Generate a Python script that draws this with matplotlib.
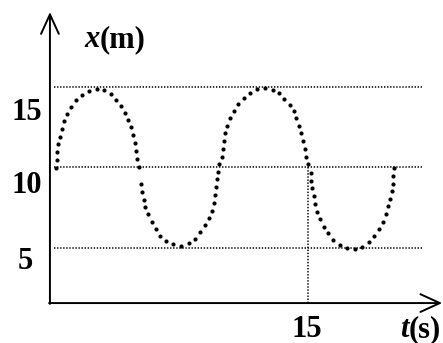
"""Displacement-time graph x(t) drawn as a dotted curve."""
import matplotlib
matplotlib.use('Agg')
import matplotlib.pyplot as plt

# dot positions: time (s) and displacement (m)
t_dots = [0.06, 0.10, 0.12, 0.18, 0.28, 0.40, 0.53, 0.73, 0.97, 1.24,
          1.60, 2.02, 2.47, 2.89, 3.30, 3.63, 3.91, 4.17, 4.35, 4.51,
          4.62, 4.72, 4.80, 4.88, 4.96,
          5.10, 5.16, 5.26, 5.35, 5.53, 5.73, 5.97, 6.24, 6.60, 7.01,
          7.47, 7.93, 8.30, 8.61, 8.88, 9.11, 9.29, 9.41, 9.50, 9.56,
          9.60, 9.68,
          9.74, 9.88, 9.94, 10.00, 10.09, 10.21, 10.39, 10.63, 10.87, 11.19,
          11.54, 11.97, 12.45, 12.90, 13.28, 13.59, 13.91, 14.15, 14.29, 14.45,
          14.59, 14.70, 14.80, 14.88, 14.98,
          15.18, 15.19, 15.25, 15.34, 15.43, 15.55, 15.73, 15.95, 16.19, 16.50,
          16.88, 17.31, 17.77, 18.20, 18.60, 18.91, 19.19, 19.43, 19.60, 19.76,
          19.88, 19.96, 20.02, 20.05, 20.09]
x_dots = [9.95, 10.47, 10.98, 11.46, 11.91, 12.41, 12.89, 13.34, 13.78, 14.17,
          14.52, 14.77, 14.88, 14.80, 14.55, 14.19, 13.82, 13.39, 12.95, 12.50,
          12.02, 11.52, 11.02, 10.51, 10.01,
          8.98, 8.46, 7.98, 7.53, 7.09, 6.61, 6.16, 5.76, 5.45, 5.23,
          5.14, 5.31, 5.58, 5.98, 6.41, 6.84, 7.30, 7.78, 8.27, 8.79,
          9.27, 9.74,
          10.22, 10.67, 11.15, 11.65, 12.12, 12.60, 13.06, 13.51, 13.94, 14.30,
          14.61, 14.86, 14.94, 14.83, 14.61, 14.27, 13.90, 13.49, 13.07, 12.58,
          12.12, 11.63, 11.15, 10.67, 10.20,
          9.68, 9.18, 8.71, 8.23, 7.73, 7.24, 6.78, 6.32, 5.91, 5.52,
          5.19, 5.00, 4.96, 5.08, 5.39, 5.75, 6.16, 6.61, 7.09, 7.59,
          8.04, 8.52, 8.99, 9.47, 9.95]

x_levels = [15, 10, 5]
x_labels = ['15', '10', '5']
t_mark = 15
t_label = '15'

plt.rcParams['lines.scale_dashes'] = False
font = ['Liberation Serif', 'DejaVu Serif']

fig = plt.figure(figsize=(4.43, 3.43), dpi=100)
ax = fig.add_axes([0, 0, 1, 1])
ax.set_xlim(-3.26, 23.0)
ax.set_ylim(-0.90, 20.40)
ax.axis('off')

t0, x0 = -0.30, 1.58  # where the two drawn axes cross

# dotted guide lines
grid = dict(color='black', lw=1.1, linestyle=(0, (1.0, 1.2)))
ax.hlines(x_levels, -0.05, 21.75, **grid)
ax.vlines(t_mark, x0, 10, **grid)

# the curve itself, as separate dots
ax.plot(t_dots, x_dots, 'o', color='black', ms=3.0, mec='none')

# axes with open arrow heads
arrow = dict(arrowstyle='->,head_length=0.7,head_width=0.32', color='black',
             lw=1.4, shrinkA=0, shrinkB=0, mutation_scale=20)
ax.annotate('', xy=(t0, 19.65), xytext=(t0, x0 - 0.05), arrowprops=arrow)
ax.annotate('', xy=(22.95, x0), xytext=(t0 - 0.05, x0), arrowprops=arrow)

# labels
txt = dict(fontsize=22, fontweight='bold', family=font, color='black')
for lvl, lab, tx, base in zip(x_levels, x_labels, [-1.66, -1.66, -1.78],
                              [12.94, 8.42, 3.70]):
    ax.text(tx, base, lab, ha='center', va='baseline', **txt)
ax.text(t_mark - 0.06, -0.52, t_label, ha='center', va='baseline', **txt)

ax.text(2.62, 17.48, 'x', ha='right', va='baseline', style='italic', **txt)
ax.text(2.62, 17.48, '(m)', ha='left', va='baseline', **txt)
ax.text(20.95, -0.52, 't', ha='right', va='baseline', style='italic', **txt)
ax.text(20.95, -0.52, '(s)', ha='left', va='baseline', **txt)

fig.savefig('out.png', dpi=100)
